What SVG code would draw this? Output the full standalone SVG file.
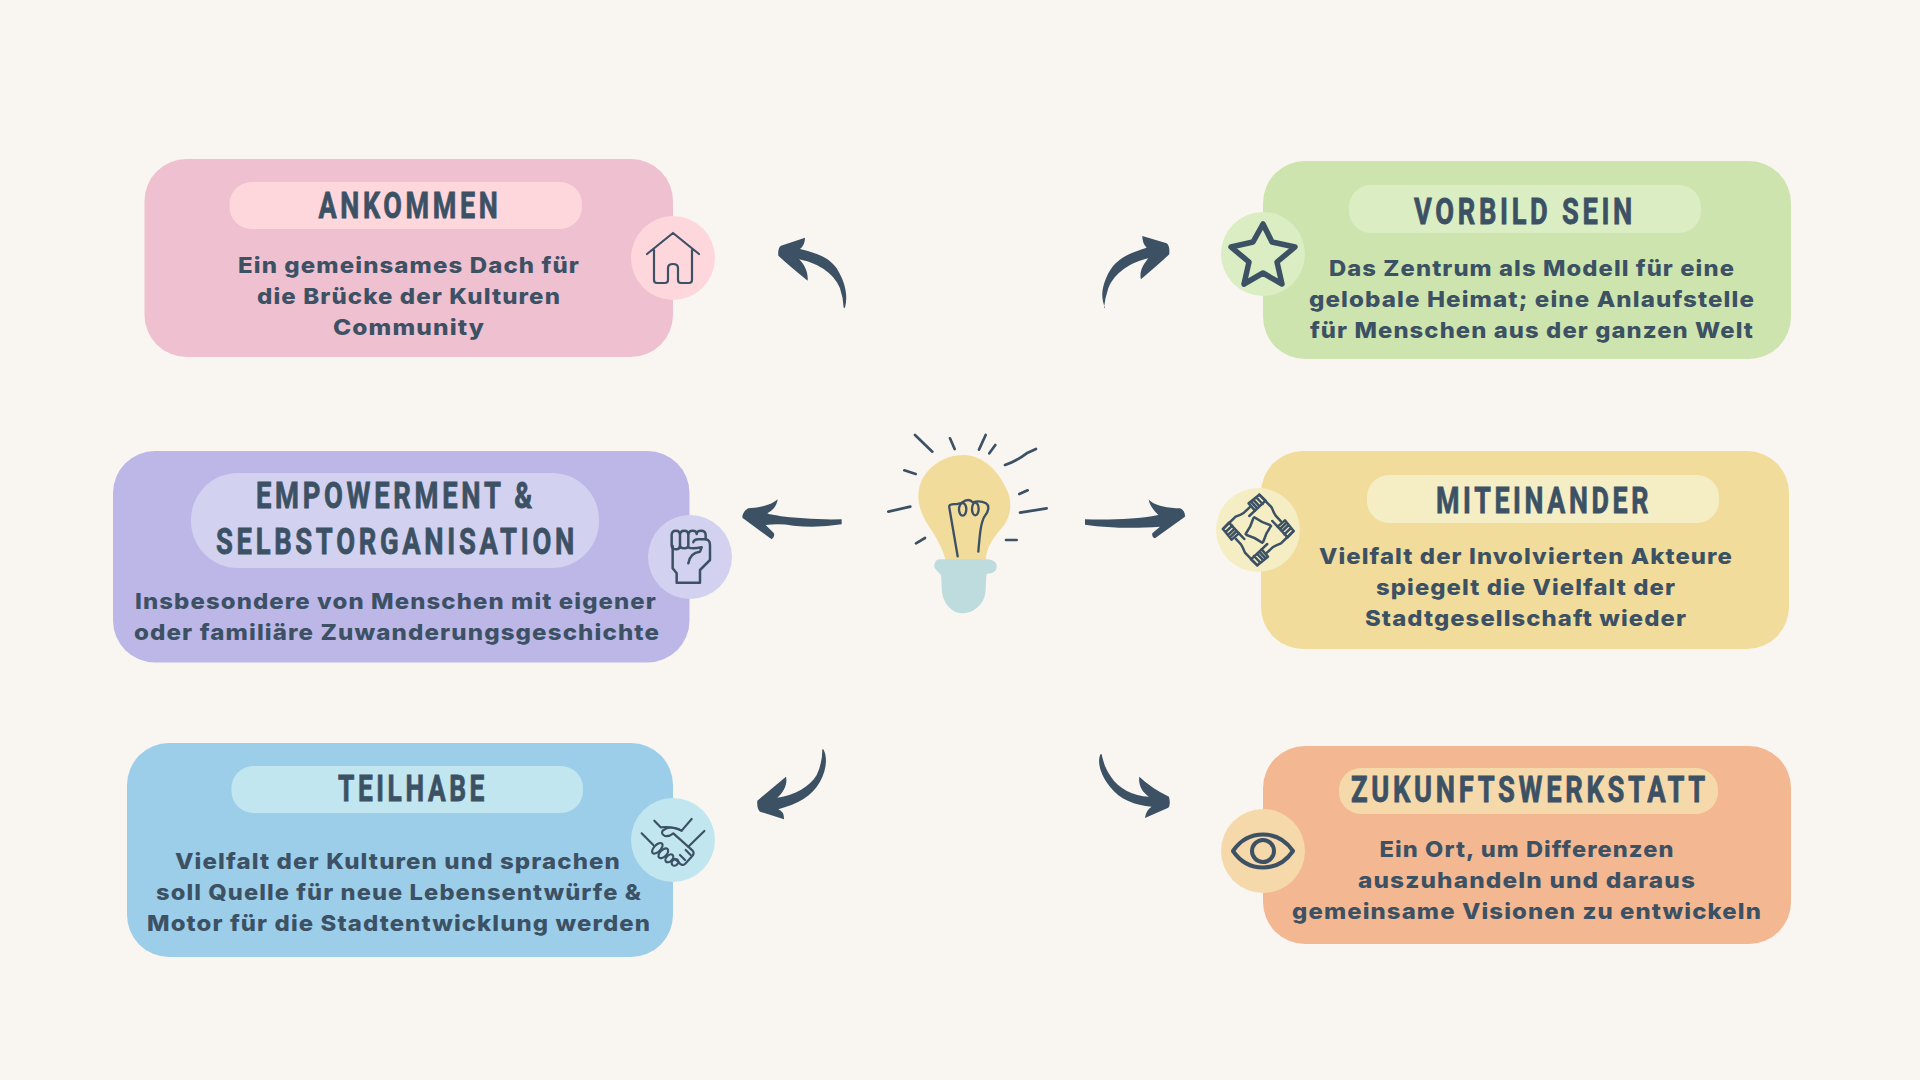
<svg xmlns="http://www.w3.org/2000/svg" width="1920" height="1080" viewBox="0 0 1920 1080">
<style>
.h{font-family:"Roboto","Liberation Sans",sans-serif;font-weight:700;font-size:37px;letter-spacing:5px;fill:#3c5164;stroke:#3c5164;stroke-width:.8px;text-anchor:middle}
.b{font-family:"Inter","Liberation Sans",sans-serif;font-weight:800;font-size:22px;letter-spacing:1px;fill:#3c5164;text-anchor:middle}
.i{fill:none;stroke:#3c5164;stroke-linecap:round;stroke-linejoin:round}
.a{fill:#3c5164}
</style>
<defs>
<g id="hand">
<path d="M3,-106L-29,-80L-10,-58L22,-88ZM-6,-98L13,-78M-15,-91L4,-71M-22,-85L-3,-65"/>
<path d="M3,-106L40,-68Q46,-52 52,-43L68,-26M-10,-58L-27,-42M-12,-38Q10,-22 35,-15"/>
</g>
</defs>
<rect width="1920" height="1080" fill="#f9f6f1"/>
<g id="connectors">
<path class="a" transform="translate(860,420) scale(.3333)" d="M675,298C750,300 830,298 895,285C880,270 868,255 866,238C880,258 930,265 960,265Q975,270 975,290L885,355Q875,352 877,340L900,320C830,325 750,325 675,314Z"/>
<path class="a" transform="translate(620,480) scale(.3333)" d="M665,118Q590,120 510,112Q450,105 442,100Q470,85 473,58Q450,80 385,85Q367,95 367,113L455,178Q465,172 462,160L437,135Q480,130 520,137Q590,145 665,133Z"/>
<g transform="translate(765,225) scale(.3333)">
<path class="a" d="M240,248C250,210 240,170 215,130C190,95 155,85 105,72Q120,60 120,38L48,62Q38,68 40,92Q70,120 128,167C130,140 118,118 102,103C150,112 205,140 225,190Q235,220 236,248Z"/>
<path class="a" d="M1020,248C1008,220 1008,190 1030,145C1055,100 1090,85 1145,68Q1132,55 1132,33L1205,55Q1215,62 1213,88Q1190,110 1128,163C1122,140 1135,118 1150,100C1100,112 1050,140 1030,190Q1020,220 1017,248Z"/>
</g>
<g transform="translate(745,740) scale(.3333)">
<path class="a" d="M235,28C248,50 245,90 225,125C200,170 160,190 100,208Q118,215 117,238L45,215Q35,208 37,182L123,110C128,130 118,155 97,173C150,165 195,140 215,105Q232,70 232,28Z"/>
<path class="a" d="M1066,43C1055,70 1070,110 1095,140C1125,180 1170,195 1220,200Q1203,210 1200,234L1270,203Q1278,195 1272,170Q1220,145 1183,110C1180,135 1190,155 1212,170C1165,168 1120,145 1098,110C1080,85 1075,65 1070,43Z"/>
</g>
</g>
<g id="bulb" transform="translate(880,425) scale(.3333)">
<path fill="#f2dc9c" d="M197,405C185,360 160,325 135,285C115,245 110,215 120,180C135,130 190,90 250,90C310,90 360,140 385,205C400,250 385,290 360,315C335,345 320,370 317,405Z"/>
<path fill="#bedbde" d="M180,403L320,403C345,405 352,415 350,428C347,445 330,445 320,447C316,470 320,500 312,520C300,550 270,565 250,565C215,565 190,535 186,500C184,480 185,465 183,450C175,440 160,430 163,420C165,408 172,403 180,403Z"/>
<g class="i" stroke-width="7">
<path d="M233,394L208,248Q206,239 216,238C228,237 238,237 245,233C258,224 270,222 278,232C288,229 305,228 318,235C330,243 325,260 315,272C303,290 300,320 295,380"/>
<ellipse cx="248" cy="253" rx="11" ry="19"/><ellipse cx="286" cy="252" rx="10" ry="19"/>
<path stroke-width="8" d="M105,30L157,80M210,40L224,72M317,30L297,74M346,60L328,85M375,120Q410,108 440,85L468,72M73,136L107,147M25,260L91,245M108,355L135,339M418,207L443,196M420,263L500,250M378,345L410,345"/>
</g>
</g>
<g id="ankommen">
<rect x="144.500" y="159" width="528.500" height="198" rx="42" fill="#eec0d0"/>
<rect x="229.500" y="182" width="352.500" height="47" rx="22" fill="#fed7dd"/>
<circle cx="673" cy="258" r="42" fill="#fed7dd"/>
<path class="i" stroke-width="2.200" d="M647,254L673,233L699,254M654,250V280Q654,283 657,283H665Q668,283 668,280V268Q668,264 673,264Q678,264 678,268V280Q678,283 681,283H689Q692,283 692,280V250"/>
<text class="h" x="410" y="218" textLength="183" lengthAdjust="spacingAndGlyphs">ANKOMMEN</text>
<text class="b" x="409" y="272.500" textLength="342" lengthAdjust="spacingAndGlyphs">Ein gemeinsames Dach für</text>
<text class="b" x="409" y="303.500" textLength="304" lengthAdjust="spacingAndGlyphs">die Brücke der Kulturen</text>
<text class="b" x="409" y="334.500" textLength="152" lengthAdjust="spacingAndGlyphs">Community</text>
</g>
<g id="vorbild">
<rect x="1263" y="161" width="528" height="198" rx="42" fill="#cee4ae"/>
<rect x="1349" y="185" width="352" height="48" rx="22" fill="#dbedc3"/>
<circle cx="1263" cy="254" r="42" fill="#dbedc3"/>
<path class="i" stroke-width="5.500" d="M1263,224L1272,242L1295,247L1277,262L1282,284L1263,273L1244,284L1249,262L1231,247L1253,242Z"/>
<text class="h" x="1525" y="224" textLength="222" lengthAdjust="spacingAndGlyphs">VORBILD SEIN</text>
<text class="b" x="1532" y="276" textLength="406" lengthAdjust="spacingAndGlyphs">Das Zentrum als Modell für eine</text>
<text class="b" x="1532" y="307" textLength="446" lengthAdjust="spacingAndGlyphs">gelobale Heimat; eine Anlaufstelle</text>
<text class="b" x="1532" y="338" textLength="444" lengthAdjust="spacingAndGlyphs">für Menschen aus der ganzen Welt</text>
</g>
<g id="empowerment">
<rect x="113" y="451" width="576.500" height="211.500" rx="42" fill="#bdb7e7"/>
<rect x="191" y="473" width="408" height="95" rx="47" fill="#d2d2f0"/>
<circle cx="690" cy="557" r="42" fill="#d2d2f0"/>
<g class="i" stroke-width="7.500" transform="translate(620,510) scale(.3333)">
<path d="M155,105V75Q155,62 168,62Q180,62 180,75V105Q180,118 168,118Q155,118 155,105ZM180,75Q180,62 193,62Q205,62 205,75V105Q205,115 193,115Q180,115 180,105M205,75Q205,62 218,62Q230,62 230,72M230,72Q230,62 243,62Q257,62 257,75V88"/>
<path d="M220,97Q222,88 235,88H257Q270,90 270,105V150L240,180V218H170V190L158,175V108M205,112Q215,118 245,112L240,125Q210,128 205,160"/>
</g>
<text class="h" x="396" y="508" textLength="280" lengthAdjust="spacingAndGlyphs">EMPOWERMENT &amp;</text>
<text class="h" x="397" y="554" textLength="362" lengthAdjust="spacingAndGlyphs">SELBSTORGANISATION</text>
<text class="b" x="396" y="609" textLength="522" lengthAdjust="spacingAndGlyphs">Insbesondere von Menschen mit eigener</text>
<text class="b" x="397" y="640" textLength="526" lengthAdjust="spacingAndGlyphs">oder familiäre Zuwanderungsgeschichte</text>
</g>
<g id="miteinander">
<rect x="1261" y="451" width="528" height="198" rx="42" fill="#f1dc9b"/>
<rect x="1367" y="475" width="352" height="48" rx="22" fill="#f5edc4"/>
<circle cx="1258" cy="530" r="42" fill="#f5edc4"/>
<g class="i" stroke-width="7.500" transform="translate(1258.300,530) scale(.3333)">
<use href="#hand"/><use href="#hand" transform="rotate(90)"/><use href="#hand" transform="rotate(180)"/><use href="#hand" transform="rotate(270)"/>
</g>
<text class="h" x="1544" y="513" textLength="216" lengthAdjust="spacingAndGlyphs">MITEINANDER</text>
<text class="b" x="1526" y="564" textLength="414" lengthAdjust="spacingAndGlyphs">Vielfalt der Involvierten Akteure</text>
<text class="b" x="1526" y="595" textLength="300" lengthAdjust="spacingAndGlyphs">spiegelt die Vielfalt der</text>
<text class="b" x="1526" y="626" textLength="322" lengthAdjust="spacingAndGlyphs">Stadtgesellschaft wieder</text>
</g>
<g id="teilhabe">
<rect x="127" y="743" width="546" height="214" rx="42" fill="#9dcee9"/>
<rect x="231.500" y="766" width="351.500" height="47" rx="22" fill="#c1e6f0"/>
<circle cx="673" cy="840" r="42" fill="#c1e6f0"/>
<g class="i" stroke-width="6.500" transform="translate(620,790) scale(.3333)">
<path d="M65,130L100,165M103,92L122,112Q155,108 185,122L215,87M253,123L205,170"/>
<path d="M185,122Q150,103 128,122Q122,132 135,138Q148,140 160,130L218,182Q225,190 215,200L195,222Q185,230 175,215L160,205"/>
<path d="M197,180L212,195M180,195L195,210"/>
<ellipse cx="112" cy="175" rx="10" ry="20" transform="rotate(45 112 175)"/>
<ellipse cx="130" cy="190" rx="10" ry="18" transform="rotate(45 130 190)"/>
<ellipse cx="148" cy="205" rx="9" ry="14" transform="rotate(45 148 205)"/>
<ellipse cx="165" cy="217" rx="9" ry="11" transform="rotate(45 165 217)"/>
</g>
<text class="h" x="413" y="801" textLength="150" lengthAdjust="spacingAndGlyphs">TEILHABE</text>
<text class="b" x="398" y="869" textLength="446" lengthAdjust="spacingAndGlyphs">Vielfalt der Kulturen und sprachen</text>
<text class="b" x="399" y="900" textLength="486" lengthAdjust="spacingAndGlyphs">soll Quelle für neue Lebensentwürfe &amp;</text>
<text class="b" x="399" y="931" textLength="504" lengthAdjust="spacingAndGlyphs">Motor für die Stadtentwicklung werden</text>
</g>
<g id="zukunft">
<rect x="1263" y="746" width="528" height="198" rx="42" fill="#f3b891"/>
<rect x="1339" y="768" width="379" height="46" rx="22" fill="#f6d9ab"/>
<circle cx="1263" cy="851" r="42" fill="#f6d9ab"/>
<path class="i" stroke-width="4" d="M1233,851C1248,829 1278,829 1293,851C1278,873 1248,873 1233,851Z"/>
<circle class="i" stroke-width="4" cx="1263" cy="851" r="11"/>
<text class="h" x="1530" y="802" textLength="358" lengthAdjust="spacingAndGlyphs">ZUKUNFTSWERKSTATT</text>
<text class="b" x="1527" y="857" textLength="295" lengthAdjust="spacingAndGlyphs">Ein Ort, um Differenzen</text>
<text class="b" x="1527" y="888" textLength="338" lengthAdjust="spacingAndGlyphs">auszuhandeln und daraus</text>
<text class="b" x="1527" y="919" textLength="470" lengthAdjust="spacingAndGlyphs">gemeinsame Visionen zu entwickeln</text>
</g>
</svg>
